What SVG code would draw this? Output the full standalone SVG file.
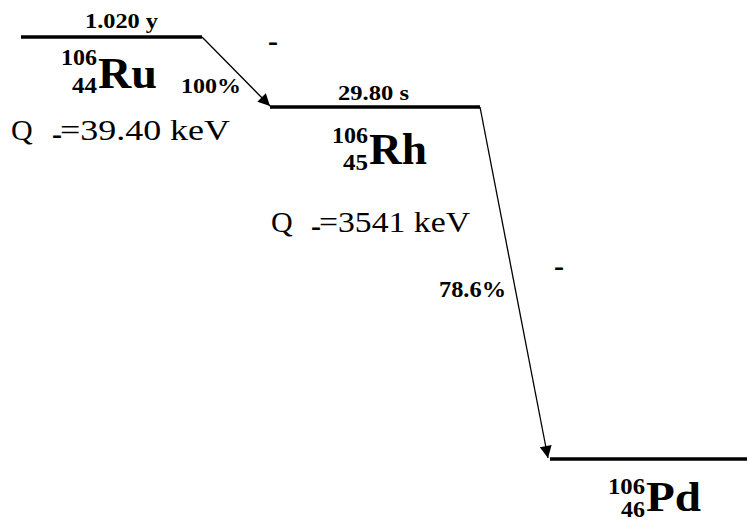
<svg xmlns="http://www.w3.org/2000/svg" width="747" height="521" viewBox="0 0 747 521">
<style>
.lvl{stroke:#000;stroke-width:3.5;fill:none}
.tr{stroke:#000;stroke-width:1.3;fill:none}
</style>
<defs>
<marker id="ah" viewBox="0 0 10 10" refX="10" refY="5" markerWidth="14" markerHeight="12" markerUnits="userSpaceOnUse" orient="auto">
<path d="M0,0 L10,5 L0,10 z" fill="#000"/>
</marker>
</defs>
<g id="Ru106">
<line class="lvl" x1="21" y1="37" x2="202" y2="37"/>
<text font-family="Liberation Serif" font-weight="bold" x="85" y="28" font-size="21" textLength="73" lengthAdjust="spacingAndGlyphs">1.020 y</text>
<text font-family="Liberation Serif" font-weight="bold" x="61" y="65" font-size="23" textLength="36" lengthAdjust="spacingAndGlyphs">106</text>
<text font-family="Liberation Serif" font-weight="bold" x="72" y="93" font-size="23" textLength="25" lengthAdjust="spacingAndGlyphs">44</text>
<text font-family="Liberation Serif" font-weight="bold" x="98" y="88" font-size="44" textLength="59" lengthAdjust="spacingAndGlyphs">Ru</text>
<text font-family="Liberation Serif" x="11" y="140" font-size="30">Q</text>
<text font-family="Liberation Serif" font-weight="bold" x="52" y="144" font-size="30">-</text>
<text font-family="Liberation Serif" x="60" y="140" font-size="30" textLength="170" lengthAdjust="spacingAndGlyphs">=39.40 keV</text>
</g>
<g id="Rh106">
<line class="lvl" x1="270" y1="107" x2="480" y2="107"/>
<text font-family="Liberation Serif" font-weight="bold" x="338" y="100" font-size="21" textLength="71" lengthAdjust="spacingAndGlyphs">29.80 s</text>
<text font-family="Liberation Serif" font-weight="bold" x="332" y="143" font-size="23" textLength="36" lengthAdjust="spacingAndGlyphs">106</text>
<text font-family="Liberation Serif" font-weight="bold" x="343" y="170" font-size="23" textLength="25" lengthAdjust="spacingAndGlyphs">45</text>
<text font-family="Liberation Serif" font-weight="bold" x="369" y="164" font-size="44" textLength="58" lengthAdjust="spacingAndGlyphs">Rh</text>
<text font-family="Liberation Serif" x="271" y="232" font-size="30">Q</text>
<text font-family="Liberation Serif" font-weight="bold" x="311" y="236" font-size="30">-</text>
<text font-family="Liberation Serif" x="319" y="232" font-size="30" textLength="151" lengthAdjust="spacingAndGlyphs">=3541 keV</text>
</g>
<g id="Pd106">
<line class="lvl" x1="550" y1="459" x2="747" y2="459"/>
<text font-family="Liberation Serif" font-weight="bold" x="608" y="494" font-size="23" textLength="37" lengthAdjust="spacingAndGlyphs">106</text>
<text font-family="Liberation Serif" font-weight="bold" x="621" y="517" font-size="23" textLength="24" lengthAdjust="spacingAndGlyphs">46</text>
<text font-family="Liberation Serif" font-weight="bold" x="646" y="511" font-size="43" textLength="55" lengthAdjust="spacingAndGlyphs">Pd</text>
</g>
<g id="connectors">
<line class="tr" x1="202" y1="37" x2="270" y2="106" marker-end="url(#ah)"/>
<text font-family="Liberation Serif" font-weight="bold" x="181" y="93" font-size="22" textLength="60" lengthAdjust="spacingAndGlyphs">100%</text>
<text font-family="Liberation Serif" font-weight="bold" x="268" y="51" font-size="30">-</text>
<line class="tr" x1="480" y1="107" x2="548" y2="458" marker-end="url(#ah)"/>
<text font-family="Liberation Serif" font-weight="bold" x="439" y="297" font-size="23" textLength="67" lengthAdjust="spacingAndGlyphs">78.6%</text>
<text font-family="Liberation Serif" font-weight="bold" x="554" y="276" font-size="30">-</text>
</g>
</svg>
